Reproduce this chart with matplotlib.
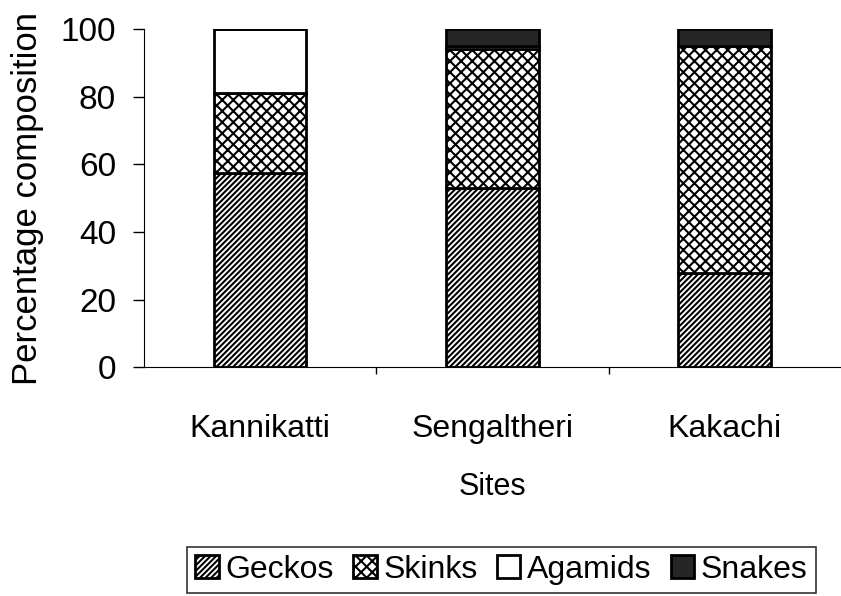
import matplotlib
matplotlib.use("Agg")
import matplotlib.pyplot as plt
import numpy as np

plt.rcParams['font.family'] = ['Liberation Sans', 'DejaVu Sans']
plt.rcParams['hatch.linewidth'] = 1.5

# data
sites = ["Kannikatti", "Sengaltheri", "Kakachi"]
geckos = [57.5, 53, 28]
skinks = [23.5, 41, 67]
agamids = [19, 1, 0]
snakes = [0, 5, 5]

groups = ["Geckos", "Skinks", "Agamids", "Snakes"]
values = [geckos, skinks, agamids, snakes]
faces = ["white", "white", "white", "#262626"]
hatches = ["//////", "xxx", None, None]

fig = plt.figure(figsize=(8.41, 5.96), dpi=100)
ax = fig.add_axes([0.171, 0.384, 0.829, 0.567])

x = np.arange(len(sites))
bottom = np.zeros(len(sites))
handles = []
for name, vals, fc, h in zip(groups, values, faces, hatches):
    vals = np.array(vals, dtype=float)
    bars = ax.bar(x, vals, 0.4, bottom=bottom, color=fc, edgecolor="black",
                  linewidth=2, hatch=h, label=name)
    handles.append(bars)
    bottom += vals

ax.set_xlim(-0.5, 2.5)
ax.set_ylim(0, 100)
ax.set_yticks([0, 20, 40, 60, 80, 100])
ax.set_xticks(x)
ax.set_xticklabels(sites)
ax.set_xticks([0.5, 1.5], minor=True)
ax.tick_params(axis="x", which="major", length=0, pad=34, labelsize=23)
ax.tick_params(axis="x", which="minor", length=5, width=1)
ax.tick_params(axis="y", length=8, width=1, labelsize=24, pad=12)
ax.spines["top"].set_visible(False)
ax.spines["right"].set_visible(False)
ax.set_ylabel("Percentage composition", fontsize=25, labelpad=12)
ax.set_xlabel("Sites", fontsize=22, labelpad=20)

leg = fig.legend(handles=handles, loc="center", bbox_to_anchor=(0.596, 0.044),
                 ncol=4, fontsize=23, frameon=True, fancybox=False,
                 edgecolor="black", handlelength=0.75, handleheight=0.75,
                 handletextpad=0.2, columnspacing=0.6, borderpad=0.25)
leg.get_frame().set_linewidth(1.2)

fig.savefig("out.png", dpi=100)
